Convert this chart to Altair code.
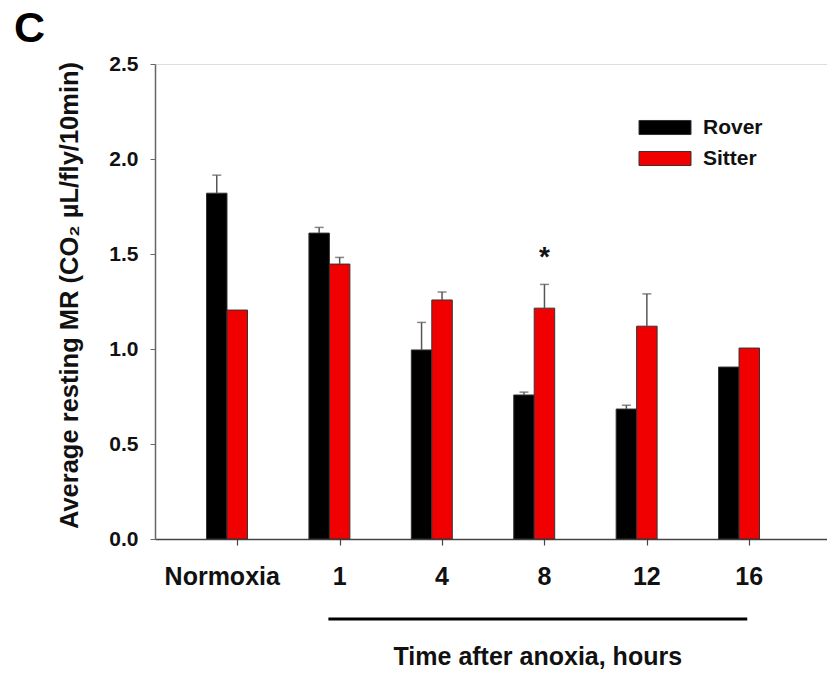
import altair as alt
import pandas as pd

# ---- data ----
groups = ["Normoxia", "1", "4", "8", "12", "16"]
series = ["Rover", "Sitter"]
rover = [1.82, 1.61, 0.995, 0.758, 0.684, 0.905]
rover_err = [0.095, 0.03, 0.145, 0.015, 0.02, 0.0]
sitter = [1.205, 1.447, 1.258, 1.215, 1.12, 1.005]
sitter_err = [0.0, 0.035, 0.042, 0.125, 0.17, 0.0]
sig = ["", "", "", "*", "", ""]
colors = ["#000000", "#f00000"]

FONT = "Liberation Sans"
BAR_W = 0.2

rows = []
for i, g in enumerate(groups):
    for s, vals, errs in (("Rover", rover, rover_err), ("Sitter", sitter, sitter_err)):
        x0 = i - BAR_W if s == "Rover" else i
        x1 = x0 + BAR_W
        rows.append(dict(group=g, series=s, value=vals[i], err=errs[i],
                         upper=vals[i] + errs[i], x0=x0, x1=x1, xc=(x0 + x1) / 2,
                         sig=sig[i] if s == "Sitter" else ""))
df = pd.DataFrame(rows)
err_df = df[df["err"] > 0]
sig_df = df[df["sig"] != ""]

lab_df = pd.DataFrame(dict(label=groups, pos=[i + BAR_W / 2 for i in range(len(groups))]))
time_idx = [groups.index("1"), groups.index("16")]
span_df = pd.DataFrame(dict(xs=[time_idx[0] - 0.01], xe=[time_idx[1] + 0.08],
                            mid=[(time_idx[0] - 0.01 + time_idx[1] + 0.08) / 2],
                            title=["Time after anoxia, hours"]))

W, H = 672, 475
xs = alt.Scale(domain=[-0.703, 5.859], nice=False, zero=False)
ys = alt.Scale(domain=[0, 2.5], nice=False)

xaxis = alt.Axis(values=[i + BAR_W / 2 for i in range(len(groups))], labels=False,
                 title=None, grid=False, tickSize=6, tickColor="#444",
                 domainColor="#444", domainWidth=1.5, tickWidth=1.2)
yaxis = alt.Axis(values=[0, 0.5, 1.0, 1.5, 2.0, 2.5], format=".1f", grid=False,
                 tickSize=5, tickColor="#666", domainColor="#666", domainWidth=1.5,
                 labelFontSize=21, labelFontWeight="bold", labelFont=FONT,
                 labelColor="#111", labelPadding=12,
                 title="Average resting MR (CO\u2082 \u00b5L/fly/10min)",
                 titleFontSize=25.5, titleFontWeight="bold", titleFont=FONT,
                 titleColor="#111", titleX=-86, titleY=231, titleAngle=270,
                 titleAlign="center", titleBaseline="middle")

color = alt.Color("series:N", scale=alt.Scale(domain=series, range=colors),
                  legend=alt.Legend(title=None, orient="none", legendX=499.5, legendY=53,
                                    symbolType="M-4,-1.08L4,-1.08L4,1.08L-4,1.08Z",
                                    symbolSize=169, symbolStrokeColor="#333",
                                    symbolStrokeWidth=1, symbolOpacity=1,
                                    labelFontSize=21, labelFontWeight="bold",
                                    labelFont=FONT, labelColor="#111",
                                    labelOffset=27.5, rowPadding=9, padding=0))

base = alt.Chart(df)
bars = base.mark_bar(stroke="#333", strokeWidth=1).encode(
    x=alt.X("x0:Q", scale=xs, axis=xaxis),
    x2="x1:Q",
    y=alt.Y("value:Q", scale=ys, axis=yaxis, stack=None),
    y2=alt.datum(0),
    color=color,
)
stems = alt.Chart(err_df).mark_rule(color="#555", strokeWidth=1.5).encode(
    x="xc:Q", y="value:Q", y2="upper:Q")
caps = alt.Chart(err_df).mark_tick(orient="horizontal", size=9, thickness=1.5,
                                   color="#555").encode(x="xc:Q", y="upper:Q")
stars = alt.Chart(sig_df).mark_text(fontSize=28, fontWeight="bold", font=FONT,
                                    baseline="alphabetic", dy=-18, color="#111").encode(
    x="xc:Q", y="upper:Q", text="sig:N")

xlab_time = alt.Chart(lab_df[lab_df["label"] != "Normoxia"]).mark_text(
    fontSize=25, fontWeight="bold", font=FONT, baseline="middle", color="#111").encode(
    x="pos:Q", y=alt.value(H + 38), text="label:N")
xlab_norm = alt.Chart(lab_df[lab_df["label"] == "Normoxia"]).mark_text(
    fontSize=25, fontWeight="bold", font=FONT, baseline="middle", dx=-15,
    color="#111").encode(x="pos:Q", y=alt.value(H + 38), text="label:N")

span = alt.Chart(span_df).mark_rule(strokeWidth=3, color="#000").encode(
    x="xs:Q", x2="xe:Q", y=alt.value(H + 80))
xtitle = alt.Chart(span_df).mark_text(fontSize=25, fontWeight="bold", font=FONT,
                                      baseline="middle", color="#111").encode(
    x="mid:Q", y=alt.value(H + 118), text="title:N")

chart = alt.layer(bars, stems, caps, stars, xlab_time, xlab_norm, span, xtitle).properties(
    width=W, height=H,
    autosize=alt.AutoSizeParams(type="none"),
    padding={"left": 155, "top": 64, "right": 0, "bottom": 137},
    title=alt.TitleParams("C", anchor="start", frame="group", fontSize=43,
                          fontWeight="bold", font=FONT, color="#000", dx=-141,
                          dy=46, baseline="alphabetic", offset=14),
).configure_view(stroke=None).configure(font=FONT, background="white")

chart.save("out.html", embed_options={"renderer": "svg", "actions": False})
